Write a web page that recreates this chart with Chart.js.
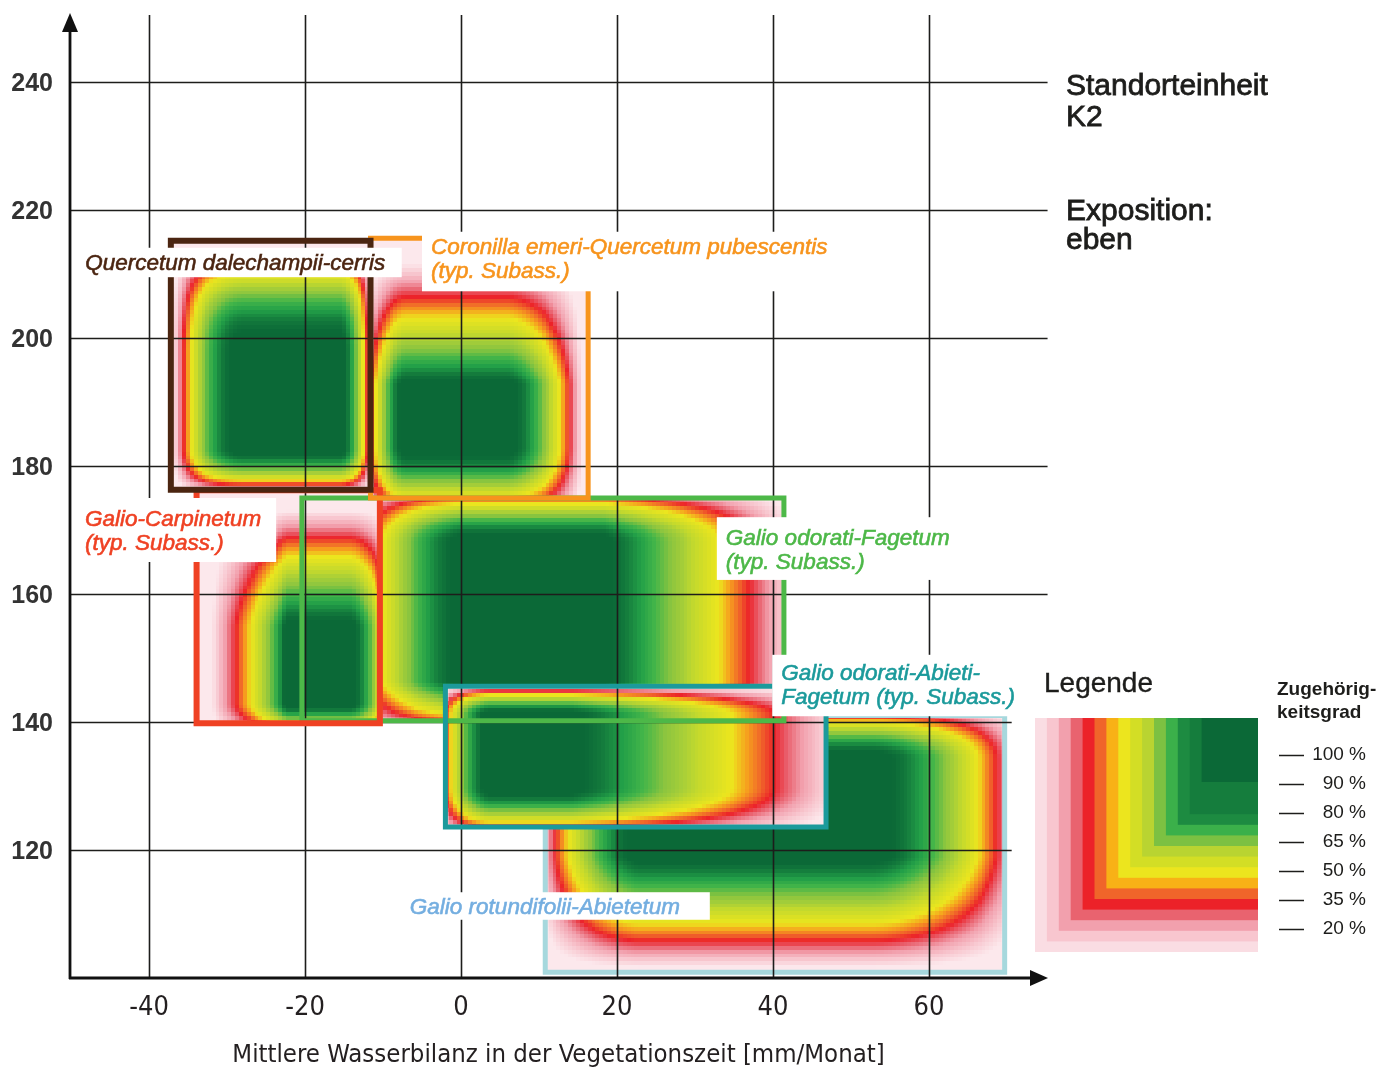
<!DOCTYPE html>
<html lang="de">
<head>
<meta charset="utf-8">
<title>Standorteinheit K2 – Zugehörigkeitsgrad der Waldgesellschaften</title>
<script src="https://cdn.jsdelivr.net/npm/chart.js@4.4.1/dist/chart.umd.min.js"></script>
<style>
  html, body { margin: 0; padding: 0; background: #ffffff; }
  #wrap { position: relative; width: 1379px; height: 1070px; }
  canvas { display: block; }
</style>
</head>
<body>
<div id="wrap"><canvas id="chart" width="1379" height="1070"></canvas></div>
<script>
// ---------------------------------------------------------------------------
// Data
// ---------------------------------------------------------------------------
const xTicks = [-40, -20, 0, 20, 40, 60];
const yTicks = [120, 140, 160, 180, 200, 220, 240];

// Forest communities, listed in drawing order (bottom layer first)
const communities = [
  'Galio rotundifolii-Abietetum',
  'Galio odorati-Fagetum (typ. Subass.)',
  'Galio-Carpinetum (typ. Subass.)',
  'Coronilla emeri-Quercetum pubescentis (typ. Subass.)',
  'Quercetum dalechampii-cerris',
  'Galio odorati-Abieti-Fagetum (typ. Subass.)'
];

// Window of each community: water balance range [mm/Monat] and y range
const rangeX = [[10.8, 69.7], [-20.4, 41.4], [-33.9, -10.4], [-11.6, 16.3], [-37.2, -11.6], [-2.0, 46.8]];
const rangeY = [[100.9, 141.0], [140.2, 175.0], [139.8, 176.2], [175.0, 215.6], [176.3, 215.2], [123.6, 145.6]];

// Fuzzy membership along each axis:
// [zero (low side), full from, full to, zero (high side), shape low side, shape high side]
const memberX = [
  [9.1, 23.0, 52.8, 73.3, 1.7, 1.7],
  [-15.4, 0.6, 18.2, 45.1, 1.7, 1.2],
  [-33.3, -22.5, -14.2, -7.8, 0.8, 1.7],
  [-12.8, -7.1, 6.05, 16.2, 1.7, 1.7],
  [-37.2, -27.7, -15.4, -10.85, 2.2, 1.7],
  [-3.7, 3.7, 14.0, 51.5, 1.7, 1.2]
];
const memberY = [
  [100.2, 119.0, 134.5, 142.8, 1.2, 1.7],
  [136.9, 146.4, 168.3, 177.2, 1.2, 1.7],
  [137.6, 143.0, 155.0, 174.8, 1.7, 1.2],
  [171.25, 183.0, 193.0, 213.75, 1.7, 1.0],
  [175.4, 182.7, 197.6, 215.0, 1.7, 2.2],
  [121.9, 129.7, 141.2, 145.9, 1.7, 1.7]
];

// Name labels (lines) and their white boxes [x from, x to, y top, y bottom]
const labelLines = [
  ['Galio rotundifolii-Abietetum'],
  ['Galio odorati-Fagetum', '(typ. Subass.)'],
  ['Galio-Carpinetum', '(typ. Subass.)'],
  ['Coronilla emeri-Quercetum pubescentis', '(typ. Subass.)'],
  ['Quercetum dalechampii-cerris'],
  ['Galio odorati-Abieti-', 'Fagetum (typ. Subass.)']
];
const labelBox = [
  [-7.2, 31.9, 113.4, 109.1],
  [32.8, 64.6, 172.0, 162.2],
  [-49.5, -23.7, 175.0, 165.0],
  [-5.0, 47.6, 216.6, 207.3],
  [-49.2, -7.6, 214.1, 209.5],
  [39.9, 70.6, 150.5, 140.9]
];

// Legend: degree of membership
const gradeLabels = ['100 %', '90 %', '80 %', '65 %', '50 %', '35 %', '20 %'];
const gradeStops  = [0.10, 0.17, 0.24, 0.30, 0.35, 0.40, 0.45, 0.51, 0.57, 0.63, 0.68, 0.74, 0.81, 0.87, 0.93, 0.97];

// ---------------------------------------------------------------------------
// Styles
// ---------------------------------------------------------------------------
const gradeColors = ['#fce8ec', '#f8c8d0', '#f2a1ae', '#e9606d', '#ec2229', '#f0652a', '#f6a01e', '#ece61e',
                     '#d8df25', '#c3d92d', '#a8cf38', '#8bc53f', '#43b549', '#23a048', '#137a3c', '#0b6937'];
const legendBands = ['#fadde3', '#f8c6cf', '#f2a0ad', '#e9636f', '#ec2229', '#f0652a', '#f8b116', '#ece51e',
                     '#d3de25', '#b9d431', '#7cc142', '#3bb04a', '#1d8b41', '#157d3d', '#0b6937'];
const frameColors = ['#a6d8dd', '#4db848', '#ef4123', '#f7941d', '#4b2511', '#1b9a9b'];
const frameWidths = [5, 5, 6, 5, 6, 5];
const textColors  = ['#74aee0', '#4db848', '#ef4123', '#f7941d', '#4b2511', '#1b9a9b'];
const textInset   = [5, 9, 10, 9, 8, 9];
const textBase    = [22, 28, 28, 22, 22, 25];
const yGridReach  = [70.6, 70.6, 75.2, 75.2, 75.2, 75.2, 75.2];
const CELL_X = 0.5, CELL_Y = 0.6;
const INK = '#1d1d1b';
const SANS = "'Liberation Sans', Arial, sans-serif";
const NARROW = "'Liberation Sans Narrow', 'DejaVu Sans Condensed', 'Liberation Sans', sans-serif";

// ---------------------------------------------------------------------------
// Helpers
// ---------------------------------------------------------------------------
function ramp(v, p) {
  if (v <= p[0] || v >= p[3]) return 0;
  if (v < p[1]) return 1 - Math.pow(1 - (v - p[0]) / (p[1] - p[0]), p[4]);
  if (v <= p[2]) return 1;
  return 1 - Math.pow(1 - (p[3] - v) / (p[3] - p[2]), p[5]);
}
function hexRgb(h) {
  return [parseInt(h.slice(1, 3), 16), parseInt(h.slice(3, 5), 16), parseInt(h.slice(5, 7), 16)];
}
const gradeRgb = gradeColors.map(hexRgb);
function gradeColor(m) {
  if (m <= gradeStops[0]) return gradeColors[0];
  const n = gradeStops.length;
  if (m >= gradeStops[n - 1]) return gradeColors[n - 1];
  let k = 0;
  while (m > gradeStops[k + 1]) k++;
  const f = (m - gradeStops[k]) / (gradeStops[k + 1] - gradeStops[k]);
  const a = gradeRgb[k], b = gradeRgb[k + 1];
  return 'rgb(' + [0, 1, 2].map(j => Math.round(a[j] + (b[j] - a[j]) * f)).join(',') + ')';
}
function drawSurface(chart, i) {
  const { ctx, scales: { x, y } } = chart;
  const [ax, bx] = rangeX[i], [ay, by] = rangeY[i];
  const left = x.getPixelForValue(ax), right = x.getPixelForValue(bx);
  const top = y.getPixelForValue(by), bottom = y.getPixelForValue(ay);
  ctx.save();
  ctx.beginPath();
  ctx.rect(left, top, right - left, bottom - top);
  ctx.clip();
  for (let gx = ax; gx < bx; gx += CELL_X) {
    const px0 = Math.floor(x.getPixelForValue(gx));
    const px1 = Math.ceil(x.getPixelForValue(gx + CELL_X));
    const mx = ramp(gx + CELL_X / 2, memberX[i]);
    for (let gy = ay; gy < by; gy += CELL_Y) {
      const m = mx * ramp(gy + CELL_Y / 2, memberY[i]);
      const py0 = Math.floor(y.getPixelForValue(gy + CELL_Y));
      const py1 = Math.ceil(y.getPixelForValue(gy));
      ctx.fillStyle = gradeColor(m);
      ctx.fillRect(px0, py0, px1 - px0, py1 - py0);
    }
  }
  ctx.restore();
}
function drawGrid(chart) {
  const { ctx, chartArea, scales: { x, y } } = chart;
  ctx.save();
  ctx.strokeStyle = INK;
  ctx.lineWidth = 1.6;
  xTicks.forEach(v => {
    const px = Math.round(x.getPixelForValue(v)) + 0.5;
    ctx.beginPath();
    ctx.moveTo(px, chartArea.top - 3);
    ctx.lineTo(px, chartArea.bottom);
    ctx.stroke();
  });
  yTicks.forEach((v, k) => {
    const py = Math.round(y.getPixelForValue(v)) + 0.5;
    ctx.beginPath();
    ctx.moveTo(chartArea.left, py);
    ctx.lineTo(x.getPixelForValue(yGridReach[k]), py);
    ctx.stroke();
  });
  ctx.restore();
}
function boldText(ctx, t, x, y, w) {
  ctx.fillText(t, x, y);
  ctx.lineWidth = w;
  ctx.strokeStyle = ctx.fillStyle;
  ctx.strokeText(t, x, y);
}

// ---------------------------------------------------------------------------
// Plugin: membership surfaces, grid, name labels, arrows and side legend
// ---------------------------------------------------------------------------
const sitePlugin = {
  id: 'sitePlugin',
  beforeDatasetsDraw(chart) {
    // lowest community and its frame lie beneath all the others
    drawSurface(chart, 0);
  },
  beforeDatasetDraw(chart, args) {
    if (args.index === 1) {
      for (let i = 1; i < communities.length; i++) drawSurface(chart, i);
      drawGrid(chart);
    }
  },
  afterDatasetsDraw(chart) {
    const { ctx, scales: { x, y } } = chart;
    ctx.save();
    labelLines.forEach((lines, i) => {
      const [x0, x1, yt, yb] = labelBox[i];
      const left = x.getPixelForValue(x0), right = x.getPixelForValue(x1);
      const top = y.getPixelForValue(yt), bottom = y.getPixelForValue(yb);
      ctx.fillStyle = '#ffffff';
      ctx.fillRect(left, top, right - left, bottom - top);
      ctx.fillStyle = textColors[i];
      ctx.font = 'italic 22.5px ' + SANS;
      ctx.textAlign = 'left';
      ctx.textBaseline = 'alphabetic';
      lines.forEach((t, j) => boldText(ctx, t, left + textInset[i], top + textBase[i] + j * 24, 0.6));
    });
    ctx.restore();
  },
  afterDraw(chart) {
    const { ctx, chartArea } = chart;
    const ox = chartArea.left - 1, oy = chartArea.bottom;
    ctx.save();
    // axes with arrow heads
    ctx.strokeStyle = '#111';
    ctx.fillStyle = '#111';
    ctx.lineWidth = 2.8;
    ctx.beginPath();
    ctx.moveTo(ox, oy + 1);
    ctx.lineTo(ox, chartArea.top + 2);
    ctx.moveTo(ox - 1, oy);
    ctx.lineTo(chartArea.right - 6, oy);
    ctx.stroke();
    ctx.beginPath();
    ctx.moveTo(ox, chartArea.top - 5);
    ctx.lineTo(ox - 8, chartArea.top + 14);
    ctx.lineTo(ox + 8, chartArea.top + 14);
    ctx.closePath();
    ctx.fill();
    ctx.beginPath();
    ctx.moveTo(chartArea.right + 2, oy);
    ctx.lineTo(chartArea.right - 16, oy - 8);
    ctx.lineTo(chartArea.right - 16, oy + 8);
    ctx.closePath();
    ctx.fill();

    // site description
    ctx.fillStyle = INK;
    ctx.textAlign = 'left';
    ctx.textBaseline = 'alphabetic';
    ctx.font = '30px ' + SANS;
    boldText(ctx, 'Standorteinheit', 1066, 95, 0.8);
    boldText(ctx, 'K2', 1066, 126, 0.8);
    boldText(ctx, 'Exposition:', 1066, 220, 0.8);
    boldText(ctx, 'eben', 1066, 249, 0.8);

    // legend
    ctx.font = '28px ' + SANS;
    boldText(ctx, 'Legende', 1044, 692, 0.4);
    const L = { left: 1035, right: 1258, top: 718, bottom: 952 };
    legendBands.forEach((c, i) => {
      const x0 = L.left + i * 11.9;
      const yb = i < legendBands.length - 1 ? L.bottom - i * 10.6 : 782;
      ctx.fillStyle = c;
      ctx.fillRect(x0, L.top, L.right - x0, yb - L.top);
    });
    ctx.fillStyle = INK;
    ctx.font = 'bold 19px ' + SANS;
    ctx.fillText('Zugehörig-', 1277, 695);
    ctx.fillText('keitsgrad', 1277, 718);
    ctx.font = '19px ' + SANS;
    ctx.textAlign = 'right';
    ctx.textBaseline = 'middle';
    ctx.strokeStyle = INK;
    ctx.lineWidth = 1.5;
    gradeLabels.forEach((t, k) => {
      const ty = 755 + k * 29;
      ctx.fillText(t, 1366, ty);
      ctx.beginPath();
      ctx.moveTo(1279, ty + 0.5);
      ctx.lineTo(1304, ty + 0.5);
      ctx.stroke();
    });
    ctx.restore();
  }
};

// ---------------------------------------------------------------------------
// Window frames as closed line datasets
// ---------------------------------------------------------------------------
const datasets = communities.map((name, i) => {
  const [ax, bx] = rangeX[i], [ay, by] = rangeY[i];
  return {
    label: name,
    data: [{ x: ax, y: ay }, { x: bx, y: ay }, { x: bx, y: by }, { x: ax, y: by }, { x: ax, y: ay }],
    showLine: true,
    borderColor: frameColors[i],
    borderWidth: frameWidths[i],
    borderJoinStyle: 'miter',
    borderCapStyle: 'square',
    backgroundColor: 'transparent',
    fill: false,
    tension: 0,
    pointRadius: 0,
    pointHoverRadius: 0,
    order: communities.length - i
  };
});

new Chart(document.getElementById('chart'), {
  type: 'scatter',
  data: { datasets },
  options: {
    responsive: false,
    animation: false,
    devicePixelRatio: 1,
    layout: { padding: { top: 18, right: 333, left: 0, bottom: 0 } },
    plugins: { legend: { display: false }, tooltip: { enabled: false } },
    events: [],
    scales: {
      x: {
        type: 'linear',
        min: -50,
        max: 75,
        afterBuildTicks: s => { s.ticks = xTicks.map(v => ({ value: v })); },
        afterFit: s => { s.height = 92; },
        grid: { display: false, drawTicks: false },
        border: { display: false },
        ticks: { color: '#231f20', padding: 14, font: { family: NARROW, size: 27 } },
        title: {
          display: true,
          text: 'Mittlere Wasserbilanz in der Vegetationszeit [mm/Monat]',
          color: '#231f20',
          font: { family: NARROW, size: 25.5, lineHeight: 1 },
          padding: { top: 0, bottom: 2 }
        }
      },
      y: {
        type: 'linear',
        min: 100,
        max: 250,
        afterBuildTicks: s => { s.ticks = yTicks.map(v => ({ value: v })); },
        afterFit: s => { s.width = 71; },
        grid: { display: false, drawTicks: true, tickLength: 18 },
        border: { display: false },
        ticks: { color: '#333333', padding: 0, labelOffset: 2, font: { family: SANS, size: 25, weight: 'bold' } }
      }
    }
  },
  plugins: [sitePlugin]
});
</script>
</body>
</html>
